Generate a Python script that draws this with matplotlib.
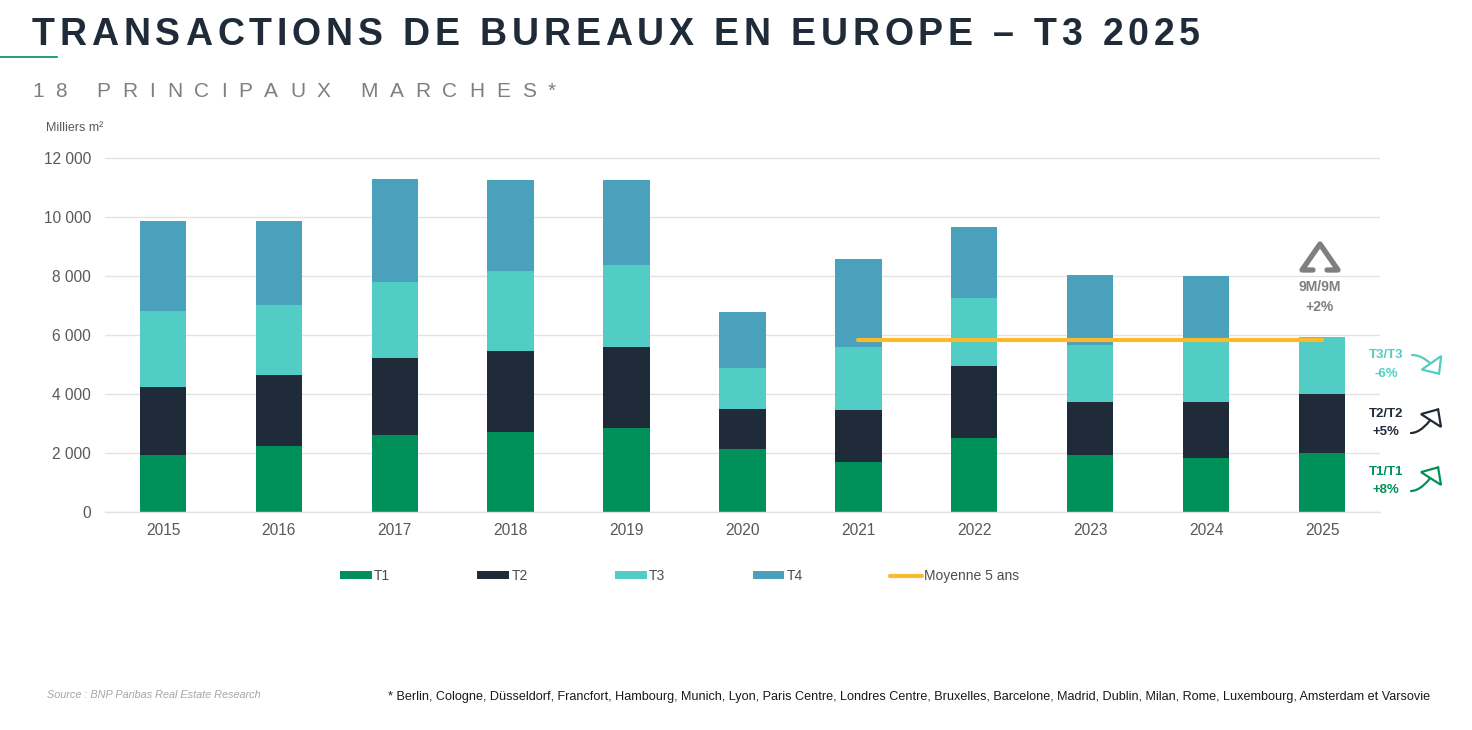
import numpy as np
import matplotlib
matplotlib.use("Agg")
import matplotlib.pyplot as plt
from matplotlib.font_manager import FontProperties
from matplotlib.patches import FancyArrowPatch
from matplotlib.path import Path
from matplotlib.lines import Line2D
from matplotlib.ticker import FuncFormatter, FixedLocator

# ---------------- data (milliers m²) ----------------
years = ["2015", "2016", "2017", "2018", "2019", "2020", "2021", "2022", "2023", "2024", "2025"]
t1 = [1930, 2240, 2600, 2705, 2840, 2135, 1695, 2495, 1930, 1835, 1985]
t2 = [2300, 2410, 2625, 2750, 2760, 1345, 1775, 2455, 1800, 1905, 2005]
t3 = [2590, 2380, 2580, 2725, 2780, 1390, 2125, 2305, 1930, 2080, 1955]
t4 = [3050, 2820, 3470, 3080, 2875, 1920, 2995, 2415, 2360, 2170, 0]  # 2025: T4 not yet available
moyenne_years = ["2021", "2022", "2023", "2024", "2025"]
moyenne_5ans = [5840, 5840, 5840, 5840, 5840]
yticks = [0, 2000, 4000, 6000, 8000, 10000, 12000]
series_names = ["T1", "T2", "T3", "T4", "Moyenne 5 ans"]
var_labels = ["9M/9M", "T3/T3", "T2/T2", "T1/T1"]
var_values = ["+2%", "-6%", "+5%", "+8%"]

title = "TRANSACTIONS DE BUREAUX EN EUROPE – T3 2025"
subtitle = "18 PRINCIPAUX MARCHES*"
source = "Source : BNP Paribas Real Estate Research"
footnote = ("* Berlin, Cologne, Düsseldorf, Francfort, Hambourg, Munich, Lyon, Paris Centre, "
            "Londres Centre, Bruxelles, Barcelone, Madrid, Dublin, Milan, Rome, Luxembourg, "
            "Amsterdam et Varsovie")

# ---------------- style ----------------
C1, C2, C3, C4 = "#00905A", "#1F2B38", "#51CDC5", "#4AA1BC"
CAVG = "#FBBA2C"
GRID = "#E3E3E3"
TXT = "#595959"
GREY = "#7F7F7F"

plt.rcParams["font.family"] = ["Liberation Sans", "DejaVu Sans"]

W, H = 1472, 730
fig = plt.figure(figsize=(W / 100, H / 100), dpi=100)


def fx(x):
    return x / W


def fy(y):
    return 1 - y / H


ymax = 12200
ax_top_px = 512 - 354 * ymax / 12000
ax = fig.add_axes([fx(105), fy(512), (1380 - 105) / W, (512 - ax_top_px) / H])

x = np.arange(len(years))
bw = 0.40
b1 = ax.bar(x, t1, bw, color=C1, lw=0)
bot = np.array(t1, float)
b2 = ax.bar(x, t2, bw, bottom=bot, color=C2, lw=0)
bot = bot + np.array(t2)
b3 = ax.bar(x, t3, bw, bottom=bot, color=C3, lw=0)
bot = bot + np.array(t3)
b4 = ax.bar(x, t4, bw, bottom=bot, color=C4, lw=0)

xm = [years.index(y) for y in moyenne_years]
lavg, = ax.plot(xm, moyenne_5ans, color=CAVG, lw=3.0, solid_capstyle="round", zorder=5)

ax.set_xlim(-0.5, len(years) - 0.5)
ax.set_ylim(0, ymax)
ax.yaxis.set_major_locator(FixedLocator(yticks))
ax.yaxis.set_major_formatter(FuncFormatter(lambda v, p: f"{int(v):,}".replace(",", " ")))
ax.set_xticks(x)
ax.set_xticklabels(years)
ax.tick_params(axis="both", length=0, labelsize=11.2, colors=TXT)
ax.tick_params(axis="y", pad=10)
ax.tick_params(axis="x", pad=8)
ax.yaxis.grid(True, color=GRID, lw=1)
ax.set_axisbelow(True)
for s in ["top", "right", "left"]:
    ax.spines[s].set_visible(False)
ax.spines["bottom"].set_color(GRID)
ax.spines["bottom"].set_linewidth(1)

fig.text(fx(46), fy(128), "Milliers m²", fontsize=9, color=TXT, ha="left", va="center")

# ---------------- titles with letter spacing ----------------
renderer = fig.canvas.get_renderer()


def tw(t, fp):
    w, h, d = renderer.get_text_width_height_descent(t, fp, ismath=False)
    return w


def spaced_text(s, x0, x1, ybase, fp, color):
    widths = [tw("|" + c + "|", fp) - tw("||", fp) for c in s]
    sp = (x1 - x0 - sum(widths)) / (len(s) - 1)
    xx = x0
    for c, wc in zip(s, widths):
        if c != " ":
            fig.text(fx(xx), fy(ybase), c, fontproperties=fp, color=color,
                     ha="left", va="baseline")
        xx += wc + sp


fp_title = FontProperties(family="Liberation Sans", weight="bold", size=27)
spaced_text(title, 32, 1200, 45, fp_title, C2)
fp_sub = FontProperties(family="Liberation Sans", size=15)
spaced_text(subtitle, 32, 556, 97, fp_sub, GREY)

fig.add_artist(Line2D([fx(0), fx(57)], [fy(57), fy(57)], color=C1, lw=1.2,
                      transform=fig.transFigure))


def fit_text(s, x0, x1, yc, color, style="normal"):
    fp = FontProperties(family="Liberation Sans", size=10, style=style)
    w10 = tw(s, fp)
    fp.set_size(10 * (x1 - x0) / w10)
    fig.text(fx(x0), fy(yc), s, fontproperties=fp, color=color, ha="left", va="center")


fit_text(source, 47, 262, 695, "#A6A6A6", style="italic")
fit_text(footnote, 388, 1430, 697, "#1A1A1A")

# ---------------- legend ----------------
fig.legend([b1, b2, b3, b4, lavg], series_names, ncol=5, loc="center left",
           bbox_to_anchor=(fx(340), fy(576)), frameon=False, fontsize=10,
           handlelength=2.3, handleheight=0.5, handletextpad=0.15,
           columnspacing=6.28, borderpad=0, borderaxespad=0, labelcolor="#4D4D4D")

# ---------------- right side annotations ----------------
tri = [(1313, 270), (1302, 270), (1320, 244), (1338, 270), (1327, 270)]
fig.add_artist(Line2D([fx(p[0]) for p in tri], [fy(p[1]) for p in tri], color=GREY, lw=3.8,
                      solid_capstyle="round", solid_joinstyle="round",
                      transform=fig.transFigure))
fig.text(fx(1320), fy(287), var_labels[0], fontsize=10, weight="bold", color=GREY,
         ha="center", va="center")
fig.text(fx(1320), fy(307), var_values[0], fontsize=10, weight="bold", color=GREY,
         ha="center", va="center")

# (label y, value y, colour, start, control, tip) in pixel positions
rows = [(355, 374, C3, (1412, 355), (1426, 355), (1440, 375)),
        (414, 432, C2, (1411, 433), (1423, 433), (1439, 408)),
        (472, 490, C1, (1411, 491), (1423, 491), (1439, 466))]
for (ya, yb, col, p0, pc, p1), lab, val in zip(rows, var_labels[1:], var_values[1:]):
    fig.text(fx(1386), fy(ya), lab, fontsize=9.5, weight="bold", color=col,
             ha="center", va="center")
    fig.text(fx(1386), fy(yb), val, fontsize=9.5, weight="bold", color=col,
             ha="center", va="center")
    pth = Path([(fx(p0[0]), fy(p0[1])), (fx(pc[0]), fy(pc[1])), (fx(p1[0]), fy(p1[1]))],
               [Path.MOVETO, Path.CURVE3, Path.CURVE3])
    arr = FancyArrowPatch(path=pth, transform=fig.transFigure,
                          arrowstyle="-|>,head_length=0.5,head_width=0.45",
                          mutation_scale=19, lw=1.6, color=col, fc="white",
                          joinstyle="miter")
    fig.add_artist(arr)

fig.savefig("out.png", dpi=100)
